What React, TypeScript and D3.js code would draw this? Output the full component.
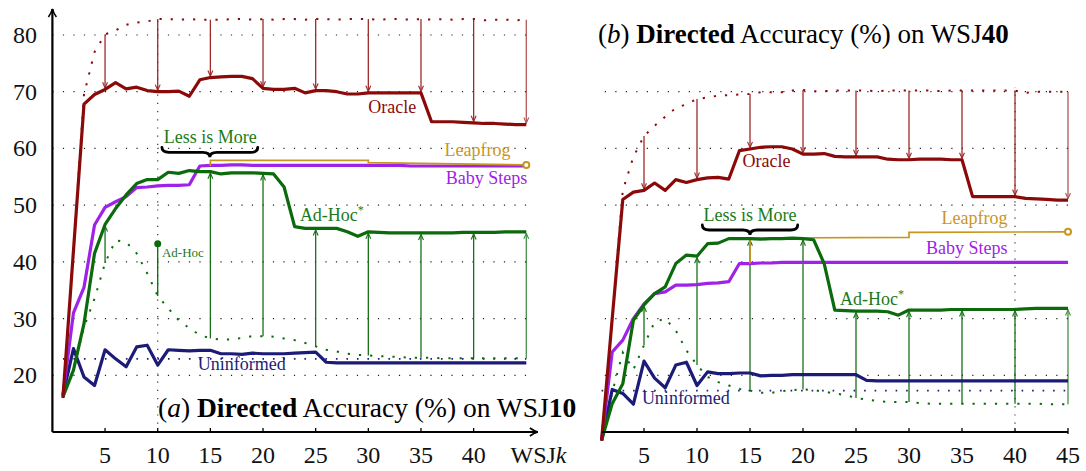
import * as d3 from "d3";

// WSJk lengths
const ks = d3.range(1, 46);
const arrowKs = [5, 10, 15, 20, 25, 30, 35, 40, 45];
const xTicksA = [5, 10, 15, 20, 25, 30, 35, 40];
const xTicksB = [5, 10, 15, 20, 25, 30, 35, 40, 45];
const yTicks = [20, 30, 40, 50, 60, 70, 80];
const gridA = [20, 30, 40, 50, 60, 70, 80];
const gridB = [20, 30, 40, 50, 60, 70];

// (a) WSJ10
const oracleA = [16, 42, 67.8, 69.5, 70.4, 71.6, 70.5, 70.8, 70.2, 70.0, 70.0, 70.1, 69.2, 72.1, 72.5, 72.6, 72.7, 72.7, 72.3, 70.6, 70.4, 70.4, 70.6, 69.8, 70.2, 70.2, 70.0, 69.6, 69.6, 69.8, 69.8, 69.8, 69.8, 69.8, 69.8, 64.7, 64.7, 64.7, 64.6, 64.5, 64.4, 64.4, 64.3, 64.2, 64.2];
const oracleUpperA = [16, 42, 69.5, 77, 80.1, 80.8, 81.8, 82.2, 82.4, 82.8, 82.8, 82.7, 82.8, 82.7, 82.7, 82.7, 82.8, 82.8, 82.7, 82.8, 82.7, 82.8, 82.8, 82.7, 82.8, 82.8, 82.7, 82.8, 82.8, 82.8, 82.7, 82.8, 82.8, 82.7, 82.8, 82.7, 82.8, 82.7, 82.8, 82.8, 82.6, 82.7, 82.7, 82.6, 82.7];
const babyStepsA = [16.5, 31, 35.5, 46.5, 49.6, 50.6, 51.5, 53.1, 53.2, 53.4, 53.5, 53.5, 53.6, 56.9, 57.0, 57.0, 57.1, 57.1, 57.0, 57.0, 57.0, 57.0, 57.0, 57.0, 57.0, 57.0, 57.0, 57.0, 57.0, 57.0, 57.0, 57.0, 57.0, 56.9, 56.9, 56.9, 56.9, 56.9, 56.9, 56.9, 56.9, 56.9, 56.9, 56.9, 56.9];
const adHocA = [16.2, 20.9, 29.1, 41.5, 46.6, 49.4, 51.8, 53.8, 54.5, 54.5, 55.8, 55.6, 56.1, 55.9, 55.9, 55.5, 55.7, 55.7, 55.7, 55.6, 55.5, 53.2, 46.2, 45.9, 45.9, 45.9, 45.9, 45.3, 44.5, 45.3, 45.2, 45.1, 45.1, 45.1, 45.1, 45.1, 45.1, 45.1, 45.2, 45.2, 45.2, 45.2, 45.3, 45.3, 45.3];
const adHocLowerA = [16.2, 21, 28.5, 33.5, 39.8, 43.8, 43.5, 41.5, 38, 34, 31.8, 29.7, 28.3, 27.1, 26.5, 26.3, 26.3, 26.6, 26.9, 26.9, 26.8, 26.5, 26.2, 25.7, 25.1, 24.5, 24.2, 23.8, 23.6, 23.5, 23.4, 23.3, 23.2, 23.1, 23.1, 23.1, 23.0, 23.0, 23.0, 23.0, 23.0, 23.0, 23.0, 23.0, 23.0];
const uninformedA = [16.5, 24.7, 19.7, 18.2, 24.5, 22.9, 21.5, 25.0, 25.3, 21.8, 24.5, 24.4, 24.3, 24.4, 24.4, 23.8, 23.8, 23.7, 23.9, 23.8, 23.8, 23.8, 23.9, 24.0, 24.1, 22.3, 22.2, 22.2, 22.2, 22.2, 22.2, 22.2, 22.2, 22.2, 22.2, 22.2, 22.2, 22.2, 22.2, 22.2, 22.2, 22.2, 22.2, 22.2, 22.2];
const uninformedBaseA = 22.9;
const leapfrogA: [number, number][] = [[15, 56.9], [15, 57.9], [30, 57.9], [30, 57.5], [45, 57.1]];
const adHocPointA = { k: 10, v: 43.2 };

// (b) WSJ40
const oracleB = [8.5, 30, 51.0, 52.3, 52.6, 53.9, 52.6, 54.5, 54.0, 54.5, 54.8, 54.9, 54.6, 59.6, 59.9, 60.2, 60.3, 60.3, 59.9, 59.0, 59.0, 59.1, 58.6, 58.5, 58.5, 58.5, 58.5, 58.1, 58.0, 58.0, 58.1, 58.1, 58.1, 58.0, 58.0, 51.5, 51.5, 51.5, 51.5, 51.5, 51.2, 51.1, 51.0, 50.9, 50.9];
const oracleUpperB = [8.5, 30, 52.6, 58.5, 62.2, 64.0, 65.6, 67.1, 67.8, 68.7, 69.0, 69.3, 69.4, 69.5, 69.6, 69.9, 69.9, 69.9, 70.2, 70.3, 70.1, 70.1, 70.2, 70.2, 70.2, 70.2, 70.1, 70.2, 70.2, 70.2, 70.2, 70.2, 70.1, 70.2, 70.2, 70.2, 70.2, 70.2, 70.2, 70.2, 69.8, 70.0, 70.0, 70.0, 70.0];
const babyStepsB = [8.5, 24.1, 26.2, 30.0, 32.6, 34.4, 34.7, 35.9, 35.9, 36.0, 36.2, 36.3, 36.5, 39.7, 39.7, 39.8, 39.8, 39.9, 39.9, 39.9, 39.9, 39.9, 39.9, 39.9, 39.9, 39.9, 39.9, 39.9, 39.9, 39.9, 39.9, 39.9, 39.9, 39.9, 39.9, 39.9, 39.9, 39.9, 39.9, 39.9, 39.9, 39.9, 39.9, 39.9, 39.9];
const adHocB = [8.5, 15.0, 18.5, 29.7, 32.4, 34.4, 35.6, 39.7, 41.2, 41.0, 43.2, 43.3, 44.1, 44.1, 44.1, 44.0, 44.1, 44.1, 44.2, 44.1, 43.9, 39.7, 31.5, 31.4, 31.3, 31.3, 31.3, 31.2, 30.6, 31.5, 31.5, 31.5, 31.5, 31.6, 31.6, 31.6, 31.6, 31.6, 31.6, 31.6, 31.7, 31.8, 31.8, 31.8, 31.8];
const adHocLowerB = [8.5, 17, 24, 21, 25.3, 29.4, 30.0, 27.9, 24.4, 21.8, 19.7, 18.8, 18.2, 17.6, 17.3, 16.9, 16.9, 17.2, 17.4, 17.5, 17.4, 17.1, 16.8, 16.5, 16.0, 15.7, 15.5, 15.3, 15.3, 15.3, 15.1, 15.0, 15.0, 15.0, 15.0, 15.0, 15.0, 15.0, 15.0, 15.0, 15.0, 15.0, 14.9, 14.9, 14.9];
const uninformedB = [8.5, 17.5, 16.8, 14.9, 22.5, 19.5, 17.8, 21.8, 22.3, 18.2, 20.6, 20.3, 20.3, 20.4, 20.4, 19.9, 20.0, 20.0, 20.1, 20.1, 20.1, 20.1, 20.1, 20.1, 20.1, 19.1, 19.0, 19.0, 19.0, 19.0, 19.0, 19.0, 19.0, 19.0, 19.0, 19.0, 19.0, 19.0, 19.0, 19.0, 19.0, 19.0, 19.0, 19.0, 19.0];
const uninformedBaseB = 17.3;
const leapfrogB: [number, number][] = [[15, 39.7], [15, 44.2], [30, 44.3], [30, 45.2], [45, 45.3]];

const C = {
  oracle: "#8a0a0a",
  oracleArrow: "#9a2020",
  baby: "#9f22e8",
  adhoc: "#0b6a0b",
  adhocText: "#1b7a1b",
  uninf: "#1c1c78",
  leap: "#c8961e",
};
const FONT = "'Liberation Serif', 'DejaVu Serif', serif";
const TXT = { fontFamily: FONT };

const W = 1086;
const H = 471;
const y = d3.scaleLinear().domain([10, 80]).range([432, 35]);
const xA = d3.scaleLinear().domain([0, 45]).range([52.4, 526.3]);
const xB = d3.scaleLinear().domain([0, 45]).range([591, 1068]);

function bracePath(x1: number, x2: number, yy: number, h: number) {
  const xm = (x1 + x2) / 2;
  const r = 7;
  const ym = yy + h / 2;
  return `M${x1},${yy} Q${x1},${ym} ${x1 + r},${ym} L${xm - r},${ym} Q${xm},${ym} ${xm},${yy + h} Q${xm},${ym} ${xm + r},${ym} L${x2 - r},${ym} Q${x2},${ym} ${x2},${yy}`;
}

type Label = { text: string; k: number; v: number; color: string; anchor?: string; size?: number; star?: boolean };

function Panel(props: {
  x: d3.ScaleLinear<number, number>;
  grid: number[];
  gridFrom: number;
  vLine: { k: number; top: number };
  oracle: number[];
  upper: number[];
  baby: number[];
  adhoc: number[];
  lower: number[];
  uninf: number[];
  uninfBase: number;
  leap: [number, number][];
  greenArrowKs: number[];
  brace: { k1: number; k2: number; v: number };
  labels: Label[];
}) {
  const { x } = props;
  const line = (vals: number[]) =>
    d3.line<number>().x((_, i) => x(ks[i])).y((v) => y(v))(vals) || "";
  const leapLine = d3.line<[number, number]>().x((d) => x(d[0])).y((d) => y(d[1]))(props.leap) || "";
  const idx = (k: number) => ks.indexOf(k);
  const last = props.leap[props.leap.length - 1];

  return (
    <g>
      {props.grid.map((g) => (
        <line key={"g" + g} x1={x(props.gridFrom)} x2={x(45)} y1={y(g)} y2={y(g)}
          stroke="#222" strokeWidth={1.2} strokeDasharray="1.2 9.3" />
      ))}
      <line x1={x(props.vLine.k)} x2={x(props.vLine.k)} y1={y(10)} y2={y(props.vLine.top)}
        stroke="#333" strokeWidth={1.2} strokeDasharray="1.2 7" />
      <line x1={x(1)} x2={x(45)} y1={y(props.uninfBase)} y2={y(props.uninfBase)}
        stroke={C.uninf} strokeWidth={1.6} strokeDasharray="1.6 8.9" />
      <path d={line(props.upper)} fill="none" stroke={C.oracle} strokeWidth={2} strokeDasharray="2.2 9" />
      <path d={line(props.lower)} fill="none" stroke={C.adhoc} strokeWidth={2} strokeDasharray="2.2 9" />
      {arrowKs.map((k) => (
        <line key={"ra" + k} x1={x(k)} x2={x(k)} y1={y(props.upper[idx(k)])} y2={y(props.oracle[idx(k)]) - 1.5}
          stroke={C.oracleArrow} strokeWidth={1.3} markerEnd="url(#arrRed)" opacity={k === 45 ? 0.75 : 0.95} />
      ))}
      {props.greenArrowKs.map((k) => (
        <line key={"ga" + k} x1={x(k)} x2={x(k)} y1={y(props.lower[idx(k)])} y2={y(props.adhoc[idx(k)]) + 1.5}
          stroke={C.adhoc} strokeWidth={1.3} markerEnd="url(#arrGreen)" opacity={k === 45 ? 0.75 : 0.95} />
      ))}
      <path d={line(props.uninf)} fill="none" stroke={C.uninf} strokeWidth={3.2} strokeLinejoin="round" />
      <path d={line(props.baby)} fill="none" stroke={C.baby} strokeWidth={3.2} strokeLinejoin="round" />
      <path d={leapLine} fill="none" stroke={C.leap} strokeWidth={1.7} />
      <circle cx={x(last[0])} cy={y(last[1])} r={3} fill="#fff" stroke={C.leap} strokeWidth={2} />
      <path d={line(props.adhoc)} fill="none" stroke={C.adhoc} strokeWidth={3.2} strokeLinejoin="round" />
      <path d={line(props.oracle)} fill="none" stroke={C.oracle} strokeWidth={3.2} strokeLinejoin="round" />
      <path d={bracePath(x(props.brace.k1), x(props.brace.k2), y(props.brace.v), 10)} fill="none"
        stroke="#000" strokeWidth={2.8} strokeLinecap="round" />
      {props.labels.map((l) => (
        <text key={l.text + l.k} x={x(l.k)} y={y(l.v)} fill={l.color} fontSize={l.size || 18}
          textAnchor={l.anchor || "start"} style={TXT}>
          {l.text}
          {l.star && <tspan dy={-7} fontSize={12}>*</tspan>}
        </text>
      ))}
    </g>
  );
}

export default function App() {
  return (
    <svg width={W} height={H} style={{ position: "absolute", left: 0, top: 0, background: "#fff", fontFamily: FONT }}>
      <defs>
        <marker id="arrRed" viewBox="0 0 10 10" refX={9} refY={5} markerWidth={7} markerHeight={7}
          markerUnits="userSpaceOnUse" orient="auto">
          <path d="M1,1.5 L9,5 L1,8.5" fill="none" stroke={C.oracleArrow} strokeWidth={1.6} />
        </marker>
        <marker id="arrGreen" viewBox="0 0 10 10" refX={9} refY={5} markerWidth={7} markerHeight={7}
          markerUnits="userSpaceOnUse" orient="auto">
          <path d="M1,1.5 L9,5 L1,8.5" fill="none" stroke={C.adhoc} strokeWidth={1.6} />
        </marker>
        <marker id="arrBlack" viewBox="0 0 10 10" refX={9} refY={5} markerWidth={10} markerHeight={10}
          markerUnits="userSpaceOnUse" orient="auto">
          <path d="M1,1 Q5,4 9,5 Q5,6 1,9" fill="none" stroke="#000" strokeWidth={1.6} />
        </marker>
      </defs>

      {/* panel (a) */}
      <Panel
        x={xA}
        grid={gridA}
        gridFrom={0}
        vLine={{ k: 10, top: 83.5 }}
        oracle={oracleA}
        upper={oracleUpperA}
        baby={babyStepsA}
        adhoc={adHocA}
        lower={adHocLowerA}
        uninf={uninformedA}
        uninfBase={uninformedBaseA}
        leap={leapfrogA}
        greenArrowKs={arrowKs.filter((k) => k !== adHocPointA.k)}
        brace={{ k1: 10.4, k2: 19.5, v: 60.2 }}
        labels={[
          { text: "Oracle", k: 30.0, v: 66.2, color: C.oracle },
          { text: "Leapfrog", k: 43.5, v: 58.6, color: C.leap, anchor: "end" },
          { text: "Baby Steps", k: 45.1, v: 53.7, color: C.baby, anchor: "end" },
          { text: "Ad-Hoc", k: 23.5, v: 47.2, color: C.adhocText, star: true },
          { text: "Uninformed", k: 13.8, v: 20.9, color: C.uninf },
          { text: "Less is More", k: 15, v: 60.9, color: C.adhocText, anchor: "middle" },
          { text: "Ad-Hoc", k: 10.4, v: 40.8, color: C.adhocText, size: 13 },
        ]}
      />
      <line x1={xA(adHocPointA.k)} x2={xA(adHocPointA.k)} y1={y(adHocLowerA[ks.indexOf(adHocPointA.k)])}
        y2={y(adHocPointA.v)} stroke={C.adhoc} strokeWidth={1.3} />
      <circle cx={xA(adHocPointA.k)} cy={y(adHocPointA.v)} r={3.5} fill={C.adhoc} />

      {/* axes (a) */}
      <line x1={xA(0)} x2={xA(0)} y1={y(10)} y2={y(84.6)} stroke="#000" strokeWidth={2.2} markerEnd="url(#arrBlack)" />
      <line x1={xA(0)} x2={xA(46.1)} y1={y(10)} y2={y(10)} stroke="#000" strokeWidth={2.2} markerEnd="url(#arrBlack)" />
      {xTicksA.map((t) => (
        <g key={"xa" + t}>
          <line x1={xA(t)} x2={xA(t)} y1={y(10)} y2={y(10) - 4} stroke="#000" strokeWidth={1.3} />
          <text x={xA(t)} y={463} fontSize={24} textAnchor="middle" fill="#111" style={TXT}>{t}</text>
        </g>
      ))}
      <text x={xA(43.5)} y={463} fontSize={24} textAnchor="start" fill="#111" style={TXT}>
        WSJ<tspan fontStyle="italic">k</tspan>
      </text>
      {yTicks.map((t) => (
        <text key={"ya" + t} x={37} y={y(t) + 8} fontSize={24} textAnchor="end" fill="#111" style={TXT}>{t}</text>
      ))}
      <text x={158} y={417} fontSize={27.5} fill="#000" style={TXT}>
        (<tspan fontStyle="italic">a</tspan>) <tspan fontWeight="bold">Directed</tspan> Accuracy (%) on WSJ<tspan fontWeight="bold">10</tspan>
      </text>

      {/* panel (b) */}
      <Panel
        x={xB}
        grid={gridB}
        gridFrom={1.3}
        vLine={{ k: 40, top: 70.8 }}
        oracle={oracleB}
        upper={oracleUpperB}
        baby={babyStepsB}
        adhoc={adHocB}
        lower={adHocLowerB}
        uninf={uninformedB}
        uninfBase={uninformedBaseB}
        leap={leapfrogB}
        greenArrowKs={arrowKs}
        brace={{ k1: 10.5, k2: 19.5, v: 46.5 }}
        labels={[
          { text: "Oracle", k: 14.3, v: 56.7, color: C.oracle },
          { text: "Leapfrog", k: 39.3, v: 46.6, color: C.leap, anchor: "end" },
          { text: "Baby Steps", k: 39.3, v: 41.4, color: C.baby, anchor: "end" },
          { text: "Ad-Hoc", k: 23.5, v: 32.35, color: C.adhocText, star: true },
          { text: "Uninformed", k: 4.8, v: 14.9, color: C.uninf },
          { text: "Less is More", k: 15, v: 47.2, color: C.adhocText, anchor: "middle" },
        ]}
      />
      <line x1={xB(1)} x2={xB(45)} y1={y(10)} y2={y(10)} stroke="#000" strokeWidth={2.2} />
      {xTicksB.map((t) => (
        <g key={"xb" + t}>
          <line x1={xB(t)} x2={xB(t)} y1={y(10) + (t === 45 ? 2 : 0)} y2={y(10) - 4} stroke="#000" strokeWidth={1.3} />
          <text x={xB(t)} y={463} fontSize={24} textAnchor="middle" fill="#111" style={TXT}>{t}</text>
        </g>
      ))}
      <text x={598} y={43} fontSize={27} fill="#000" style={TXT}>
        (<tspan fontStyle="italic">b</tspan>) <tspan fontWeight="bold">Directed</tspan> Accuracy (%) on WSJ<tspan fontWeight="bold">40</tspan>
      </text>
    </svg>
  );
}
